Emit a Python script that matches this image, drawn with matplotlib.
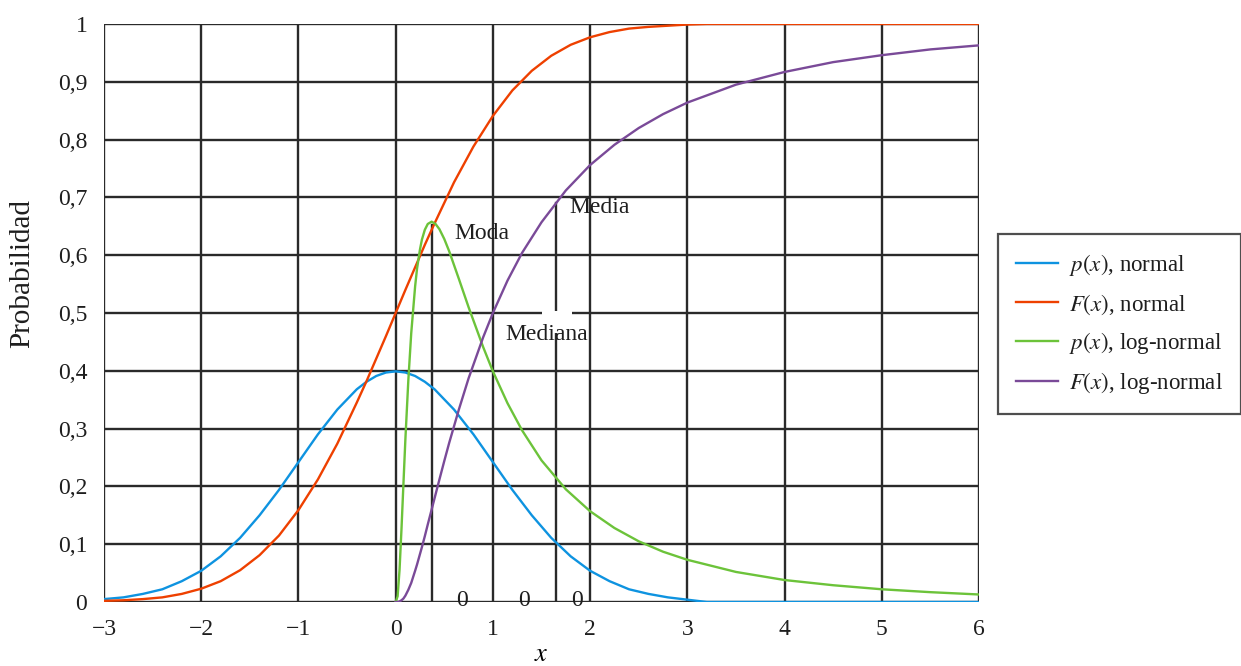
import matplotlib
matplotlib.use("Agg")
import matplotlib.pyplot as plt
from matplotlib.patches import Rectangle

plt.rcParams["font.family"] = ["Liberation Serif", "DejaVu Serif"]
plt.rcParams["mathtext.fontset"] = "stix"

# -----------------------------------------------------
#  Values
# -----------------------------------------------------
x_norm = [-3, -2.8, -2.6, -2.4, -2.2, -2, -1.8, -1.6, -1.4, -1.2, -1, -0.8, -0.6, -0.4, -0.3, -0.2, -0.1, 0,
          0.1, 0.2, 0.3, 0.4, 0.6, 0.8, 1, 1.2, 1.4, 1.6, 1.8, 2, 2.2, 2.4, 2.6, 2.8, 3, 3.2, 4, 5, 6]
p_norm = [0.005, 0.008, 0.014, 0.022, 0.036, 0.054, 0.079, 0.111, 0.150, 0.194, 0.242, 0.290, 0.333,
          0.368, 0.381, 0.391, 0.397, 0.399, 0.397, 0.391, 0.381, 0.368, 0.333, 0.290, 0.242, 0.194,
          0.150, 0.111, 0.079, 0.054, 0.036, 0.022, 0.014, 0.008, 0.004, 0.0, 0.0, 0.0, 0.0]
F_norm = [0.002, 0.003, 0.005, 0.008, 0.014, 0.023, 0.036, 0.055, 0.081, 0.115, 0.159, 0.212, 0.274,
          0.345, 0.382, 0.421, 0.460, 0.500, 0.540, 0.579, 0.618, 0.655, 0.726, 0.788, 0.841, 0.885,
          0.919, 0.945, 0.964, 0.977, 0.986, 0.992, 0.995, 0.997, 0.999, 1.0, 1.0, 1.0, 1.0]

x_logn = [0, 0.02, 0.04, 0.06, 0.08, 0.1, 0.13, 0.16, 0.2, 0.22, 0.25, 0.27, 0.3, 0.33, 0.37, 0.41,
          0.45, 0.5, 0.55, 0.65, 0.75, 0.9, 1, 1.15, 1.3, 1.5, 1.75, 2, 2.25, 2.5, 2.75, 3, 3.5, 4,
          4.5, 5, 5.5, 6]
p_logn = [0.0, 0.010, 0.056, 0.127, 0.205, 0.282, 0.383, 0.465, 0.546, 0.577, 0.610, 0.627, 0.644,
          0.654, 0.658, 0.654, 0.645, 0.628, 0.607, 0.559, 0.510, 0.441, 0.399, 0.344, 0.297, 0.245,
          0.195, 0.157, 0.128, 0.105, 0.087, 0.073, 0.052, 0.038, 0.029, 0.022, 0.017, 0.013]
F_logn = [0.0, 0.0, 0.001, 0.003, 0.006, 0.011, 0.021, 0.033, 0.054, 0.065, 0.083, 0.095, 0.114,
          0.134, 0.160, 0.186, 0.212, 0.244, 0.275, 0.333, 0.387, 0.458, 0.500, 0.556, 0.604, 0.657,
          0.712, 0.756, 0.791, 0.820, 0.844, 0.864, 0.895, 0.917, 0.934, 0.946, 0.956, 0.963]

# markers for moda / media (x position, height)
moda_x, moda_top = 0.37, 0.652
media_x, media_top = 1.65, 0.69

x_ticks = [-3, -2, -1, 0, 1, 2, 3, 4, 5, 6]
y_ticks = [0, 0.1, 0.2, 0.3, 0.4, 0.5, 0.6, 0.7, 0.8, 0.9, 1.0]
y_labels = ["0", "0,1", "0,2", "0,3", "0,4", "0,5", "0,6", "0,7", "0,8", "0,9", "1"]

zero_labels_x = [0.68, 1.32, 1.86]

# -----------------------------------------------------
#  Figure
# -----------------------------------------------------
fig = plt.figure(figsize=(12.41, 6.66), dpi=100)
ax = fig.add_axes([0.0838, 0.0961, 0.7051, 0.8679])

grid_c = "#2a2a2a"
txt_c = "#1e1e1e"
for xv in x_ticks:
    ax.axvline(xv, color=grid_c, lw=1.7, zorder=1)
for yv in y_ticks:
    ax.axhline(yv, color=grid_c, lw=1.7, zorder=1)

ax.plot([moda_x, moda_x], [0, moda_top], color=grid_c, lw=1.7, zorder=1)
ax.plot([media_x, media_x], [0, media_top], color=grid_c, lw=1.7, zorder=1)

ax.plot(x_norm, p_norm, color="#0e93e0", lw=1.7, label=r"$p(x)$, normal", zorder=3)
ax.plot(x_norm, F_norm, color="#ee4000", lw=1.7, label=r"$F(x)$, normal", zorder=3)
ax.plot(x_logn, p_logn, color="#6cc33a", lw=1.7, label=r"$p(x)$, log-normal", zorder=3)
ax.plot(x_logn, F_logn, color="#7a4a98", lw=1.7, label=r"$F(x)$, log-normal", zorder=3)

# white box behind "Mediana" label
ax.add_patch(Rectangle((1.51, 0.465), 0.30, 0.038, facecolor="white", edgecolor="none", zorder=2))

fs = 17
ax.text(0.60, 0.638, "Moda", fontsize=fs, va="center", ha="left", color=txt_c, zorder=4)
ax.text(1.79, 0.682, "Media", fontsize=fs, va="center", ha="left", color=txt_c, zorder=4)
ax.text(1.13, 0.462, "Mediana", fontsize=fs, va="center", ha="left", color=txt_c, zorder=4)
for zx in zero_labels_x:
    ax.text(zx, 0.003, "0", fontsize=fs, va="center", ha="center", color=txt_c, zorder=4)

ax.set_xlim(-3, 6)
ax.set_ylim(0, 1)
ax.set_xticks(x_ticks)
ax.set_xticklabels([("\u2212" + str(-v)) if v < 0 else str(v) for v in x_ticks])
ax.set_yticks(y_ticks)
ax.set_yticklabels(y_labels)
ax.tick_params(length=0, labelsize=fs, colors=txt_c)
ax.tick_params(axis="x", pad=12)
ax.tick_params(axis="y", pad=12)
for s in ax.spines.values():
    s.set_visible(False)

ax.set_xlabel(r"$x$", fontsize=19, labelpad=3)
ax.set_ylabel("Probabilidad", fontsize=21, color=txt_c, va="center")
ax.yaxis.set_label_coords(-0.093, 0.569)

leg = ax.legend(loc="upper left", bbox_to_anchor=(998 / 1241, 1 - 234 / 666), bbox_transform=fig.transFigure,
                fontsize=16.5, frameon=True, fancybox=False, handlelength=1.8,
                labelspacing=0.6, borderpad=0.8, handletextpad=0.48, borderaxespad=0)
leg.get_frame().set_edgecolor("#222222")
leg.get_frame().set_linewidth(1.6)
for t in leg.get_texts():
    t.set_color(txt_c)

fig.savefig("out.png", dpi=100)
